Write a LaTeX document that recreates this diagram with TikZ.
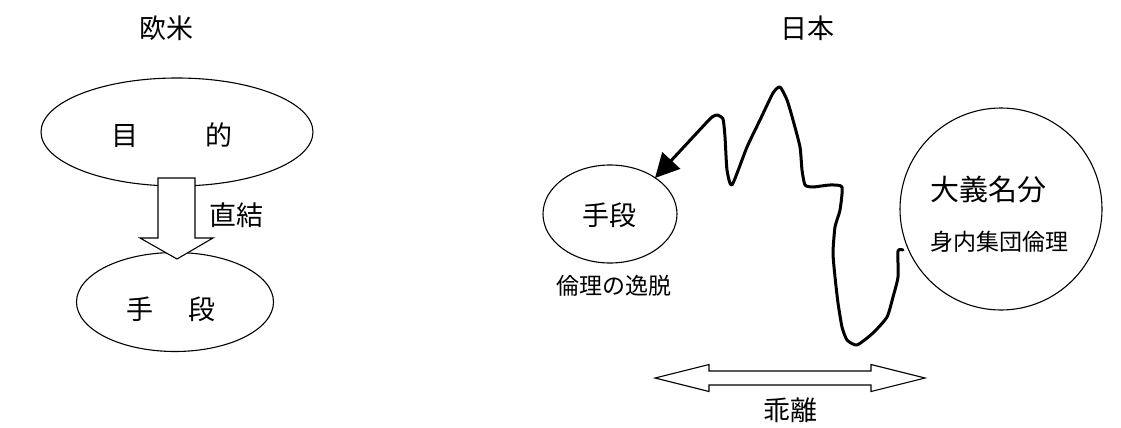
\documentclass[tikz,border=0pt]{standalone}
\usepackage{fontspec}
\newfontfamily\cjk{Noto Sans CJK JP}
\usetikzlibrary{shapes.geometric,arrows.meta}
\begin{document}
\begin{tikzpicture}[x=1pt,y=-1pt,
  lbl/.style={font=\cjk\fontsize{27}{30}\selectfont, inner sep=0pt},
  sml/.style={font=\cjk\fontsize{23}{26}\selectfont, inner sep=0pt},
  oval/.style={draw, ellipse, line width=1.1pt, inner sep=0pt},
  blk/.style={draw, fill=white, line width=1.1pt, line join=miter},
  wave/.style={line width=3pt, line cap=round, line join=round},
  ]
\useasboundingbox (0,0) rectangle (1121,428);
% titles
\node[lbl] (ou) at (166,28) {欧米};
\node[lbl] (jp) at (807,28) {日本};
% left side
\node[oval, minimum width=272, minimum height=108] (goal) at (177,132) {};
\node[lbl] (goalt) at (172,135) {目\hspace{68pt}的};
\node[oval, minimum width=197, minimum height=99] (mean) at (175,302) {};
\node[lbl] (meant) at (171,309) {手\hspace{35pt}段};
\coordinate (a1) at (177,178);
\draw[blk] (158,178) -- (195,178) -- (195,238) -- (213,238) -- (177,259) -- (140,238) -- (158,238) -- cycle;
\node[lbl, anchor=west] (direct) at (209,215) {直結};
% right side
\node[oval, minimum width=134, minimum height=98] (mean2) at (610,214) {};
\node[lbl] (mean2t) at (609,215) {手段};
\node[sml] (dev) at (614,286) {倫理の逸脱};
\node[draw, circle, line width=1.1pt, minimum size=202, inner sep=0pt] (big) at (1001,209) {};
\node[lbl, anchor=west, font=\cjk\fontsize{29}{32}\selectfont] (taigi) at (930,190) {大義名分};
\node[sml, anchor=west] (miuchi) at (930,242) {身内集団倫理};
% wave
\coordinate (ws) at (903,250);
\coordinate (we) at (707,122);
\draw[wave] plot[smooth, tension=0.35] coordinates {(903,250) (898,251) (898,277) (893,297) (887,317) (873,333) (857,345) (847,340) (842,327) (838,303) (835,277) (833,253) (835,227) (840,210) (842,187) (830,185) (813,187) (805,185) (802,170) (800,147) (793,120) (787,100) (780,87) (773,93) (760,120) (747,147) (732,185) (727,170) (725,137) (723,119) (717,115) (712,117) (707,122)};
\draw[line width=3pt, -{Triangle[length=24pt,width=24pt]}] (we) -- (655,178);
% double arrow
\draw[blk] (655,378) -- (709,364.5) -- (709,371) -- (871,371) -- (871,364.5) -- (925,378) -- (871,391.5) -- (871,385) -- (709,385) -- (709,391.5) -- cycle;
\node[lbl] (kairi) at (790,410) {乖離};
\end{tikzpicture}
\end{document}
